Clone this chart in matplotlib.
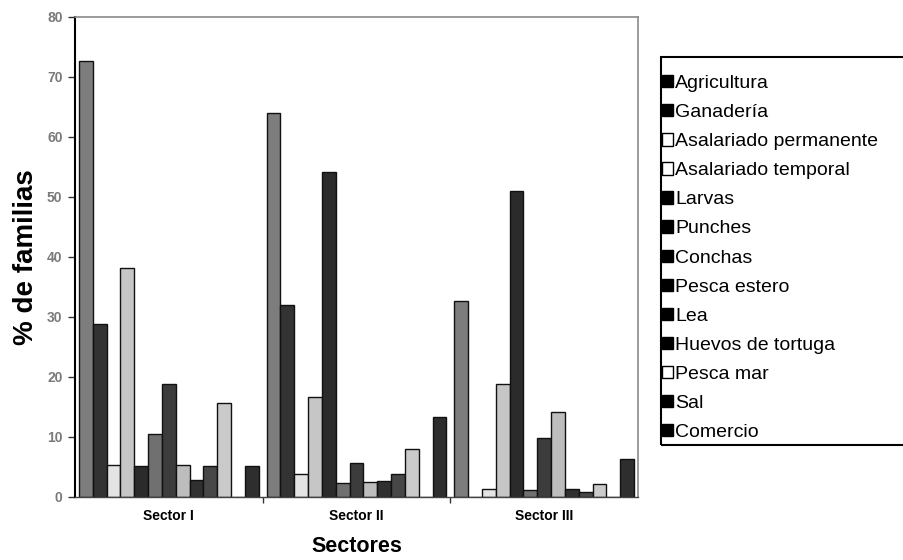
import numpy as np
import matplotlib.pyplot as plt
from matplotlib.patches import Patch, Rectangle

plt.rcParams['font.family'] = ['Liberation Sans', 'DejaVu Sans']

# Datos: % de familias por actividad en cada sector
sectores = ['Sector I', 'Sector II', 'Sector III']
actividades = ['Agricultura', 'Ganadería', 'Asalariado permanente',
               'Asalariado temporal', 'Larvas', 'Punches', 'Conchas',
               'Pesca estero', 'Lea', 'Huevos de tortuga', 'Pesca mar',
               'Sal', 'Comercio']
sector_1 = [72.7, 28.9, 5.3, 38.1, 5.2, 10.5, 18.8, 5.3, 2.8, 5.2, 15.7, 0.0, 5.1]
sector_2 = [64.0, 32.0, 3.9, 16.6, 54.1, 2.4, 5.6, 2.5, 2.7, 3.8, 8.0, 0.0, 13.4]
sector_3 = [32.7, 0.0, 1.4, 18.8, 51.0, 1.2, 9.9, 14.2, 1.3, 0.8, 2.2, 0.0, 6.3]

# tonos de gris de las barras
colores = ['#7d7d7d', '#333333', '#e4e4e4', '#c6c6c6', '#2b2b2b', '#707070',
           '#3c3c3c', '#bdbdbd', '#303030', '#474747', '#cacaca', '#555555',
           '#2e2e2e']
# la leyenda impresa sale en negro / blanco
colores_leyenda = ['black', 'black', 'white', 'white', 'black', 'black',
                   'black', 'black', 'black', 'black', 'white', 'black',
                   'black']

valores = np.array([sector_1, sector_2, sector_3])

W, H = 904, 560
fig = plt.figure(figsize=(W / 100, H / 100), dpi=100)
ax = fig.add_axes([75 / W, 63 / H, 563 / W, 480 / H])

n = len(actividades)
ancho = 0.0737
margen = (1 - n * ancho) / 2
grupos = np.arange(len(sectores))
for k in range(n):
    ax.bar(grupos + margen + k * ancho, valores[:, k], width=ancho,
           align='edge', color=colores[k], edgecolor='#111111', linewidth=1.0)

ax.set_xlim(0, 3)
ax.set_ylim(0, 80)
ax.set_yticks(np.arange(0, 81, 10))
ax.tick_params(axis='y', direction='out', length=5, width=1, color='#333333',
               labelsize=10, labelcolor='#7a7a7a', pad=4)
for t in ax.get_yticklabels():
    t.set_fontweight('bold')

ax.set_xticks(grupos + 0.5)
ax.set_xticklabels(sectores, fontsize=10, fontweight='bold')
ax.tick_params(axis='x', length=0, pad=9)
ax.set_xticks([1, 2], minor=True)
ax.tick_params(axis='x', which='minor', direction='out', length=4, width=1,
               color='#333333')

for lado in ['top', 'right']:
    ax.spines[lado].set_color('#8a8a8a')
    ax.spines[lado].set_linewidth(1.2)
ax.spines['left'].set_linewidth(1.5)
ax.spines['bottom'].set_linewidth(1.0)
ax.spines['bottom'].set_color('#444444')

ax.set_ylabel('% de familias', fontsize=20, fontweight='bold', labelpad=6)
ax.set_xlabel('Sectores', fontsize=15.5, fontweight='bold', labelpad=9)

# Leyenda con marco propio
manejadores = [Patch(facecolor=c, edgecolor='black', linewidth=1.0)
               for c in colores_leyenda]
fig.legend(manejadores, actividades, loc='upper left',
           bbox_to_anchor=(662 / W, 1 - 75 / H), frameon=False,
           fontsize=14, handlelength=0.55, handleheight=0.6,
           handletextpad=0.12, labelspacing=0.62, borderpad=0.0,
           borderaxespad=0.0)
fig.patches.append(Rectangle((661 / W, 1 - 445 / H), 0.5, 388 / H,
                             transform=fig.transFigure, fill=False,
                             edgecolor='black', linewidth=1.5))

fig.savefig('out.png', dpi=100)
